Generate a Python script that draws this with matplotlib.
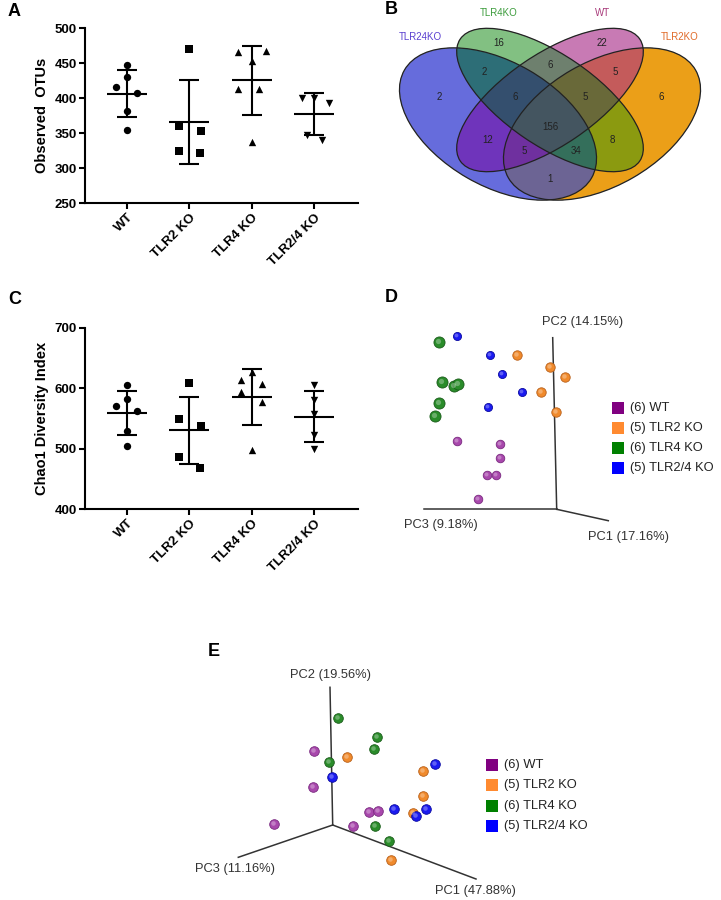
import numpy as np
import matplotlib
matplotlib.use("Agg")
import matplotlib.pyplot as plt
from matplotlib.patches import Ellipse
from matplotlib.colors import to_rgba

plt.rcParams['font.family'] = ['Liberation Sans', 'DejaVu Sans']

W, H = 721, 900

# ---- data ----
groups = ["WT", "TLR2 KO", "TLR4 KO", "TLR2/4 KO"]
markers = ["o", "s", "^", "v"]

# A: observed OTUs per mouse
otus_wt = [448, 431, 416, 407, 382, 355]
otus_tlr2 = [470, 360, 353, 325, 322]
otus_tlr4 = [466, 468, 454, 414, 414, 337]
otus_tlr24 = [401, 401, 394, 348, 341]

# C: Chao1 per mouse
chao_wt = [606, 582, 570, 563, 529, 505]
chao_tlr2 = [608, 549, 538, 487, 469]
chao_tlr4 = [626, 614, 607, 594, 577, 498]
chao_tlr24 = [605, 580, 558, 522, 500]

# B: Venn counts
venn_sets = ["TLR24KO", "TLR4KO", "WT", "TLR2KO"]
venn_counts = [2, 16, 22, 6, 2, 6, 5, 6, 5, 156, 12, 8, 5, 34, 1]

# D: PCoA (unweighted), projected coordinates
d_wt = [(-99.4, 68.3), (-56.7, 65.3), (-56.7, 51), (-70, 34.3), (-61, 34.3), (-78.4, 10)]
d_tlr2 = [(-40, 154.3), (-6.7, 142.6), (8.3, 132.6), (-15.7, 117), (-1, 97.6)]
d_tlr4 = [(-117.4, 167.6), (-115, 127.6), (-102.4, 123.3), (-98.4, 125.3), (-117.7, 106), (-121.7, 93.6)]
d_tlr24 = [(-100, 173.6), (-66.7, 154.3), (-55, 135), (-34.4, 117.6), (-69, 102)]
d_axes = ["PC1 (17.16%)", "PC2 (14.15%)", "PC3 (9.18%)"]

# E: PCoA (weighted), projected coordinates
e_wt = [(-18.4, 74.3), (-19.4, 37.7), (-58.4, 1), (36.3, 12.7), (45.6, 14), (20, -0.7)]
e_tlr2 = [(14, 67.7), (90.6, 54.3), (90, 29.3), (80.6, 12.3), (58, -35)]
e_tlr4 = [(5.6, 106.7), (44, 87.7), (41.3, 75.7), (-3.4, 63), (42.3, -1), (56.3, -15.7)]
e_tlr24 = [(-1, 47.7), (102.3, 61), (61.3, 16.3), (93.3, 16), (83.3, 9)]
e_axes = ["PC1 (47.88%)", "PC2 (19.56%)", "PC3 (11.16%)"]

legend_n = [6, 5, 6, 5]

fig = plt.figure(figsize=(W / 100, H / 100), dpi=100)


def px_axes(x0, y0, x1, y1):
    return fig.add_axes([x0 / W, 1 - y1 / H, (x1 - x0) / W, (y1 - y0) / H])


def dot_panel(ax, values, offsets, ylim, yticks, ylabel):
    for i, (vals, offs, m) in enumerate(zip(values, offsets, markers)):
        vals = np.asarray(vals, float)
        ax.scatter(i + np.asarray(offs), vals, marker=m, s=28, color="black",
                   linewidths=0, zorder=3, clip_on=False)
        mean, sd = vals.mean(), vals.std(ddof=1)
        ax.hlines(mean, i - 0.32, i + 0.32, color="black", lw=1.5)
        ax.vlines(i, mean - sd, mean + sd, color="black", lw=1.5)
        ax.hlines([mean - sd, mean + sd], i - 0.16, i + 0.16, color="black", lw=1.5)
    ax.set_xlim(-0.673, 3.70)
    ax.set_ylim(*ylim)
    ax.set_yticks(yticks)
    ax.set_xticks(range(len(groups)))
    ax.set_xticklabels(groups, rotation=45, ha="right", rotation_mode="anchor",
                       fontsize=9.5, fontweight="bold")
    for t in ax.get_yticklabels():
        t.set_fontweight("bold")
        t.set_fontsize(9.5)
    ax.set_ylabel(ylabel, fontsize=10.5, fontweight="bold", labelpad=4)
    for s in ["top", "right"]:
        ax.spines[s].set_visible(False)
    for s in ["left", "bottom"]:
        ax.spines[s].set_linewidth(1.5)
    ax.tick_params(direction="out", length=4, width=1.5, pad=2)


# ---- A ----
ax_a = px_axes(85, 28.3, 358, 203.3)
dot_panel(ax_a, [otus_wt, otus_tlr2, otus_tlr4, otus_tlr24],
          [[0, 0, -0.17, 0.16, 0, 0], [0, -0.17, 0.18, -0.17, 0.17],
           [-0.22, 0.22, 0, -0.23, 0.11, 0], [-0.2, 0, 0.23, -0.12, 0.12]],
          (250, 500), range(250, 501, 50), "Observed  OTUs")

# ---- C ----
ax_c = px_axes(85, 327.7, 358, 509.3)
dot_panel(ax_c, [chao_wt, chao_tlr2, chao_tlr4, chao_tlr24],
          [[0, 0, -0.17, 0.16, 0, 0], [0, -0.16, 0.18, -0.16, 0.17],
           [0, -0.17, 0.17, -0.17, 0.17, 0], [0, 0, 0, 0, 0]],
          (400, 700), range(400, 701, 100), "Chao1 Diversity Index")

# ---- B: Venn ----
ax_b = px_axes(380, 0, 721, 215)
ellipses = [(498, 124, 108, 62, 30), (550, 100, 108.5, 45.6, 34.2),
            (550, 100, 108.5, 45.6, -34.2), (602, 124, 108, 62, -30)]
region_colors = {8: "#666cdc", 4: "#82c082", 2: "#c87ab4", 1: "#eba018",
                 12: "#2d6e78", 6: "#6e806e", 3: "#c45c5c", 14: "#34506e",
                 7: "#6a6a3a", 15: "#445560", 10: "#7034bc", 5: "#8c9a10",
                 11: "#7030a0", 13: "#34705c", 9: "#6c6494"}
gx = np.linspace(380, 721, 1023)
gy = np.linspace(0, 215, 645)
X, Y = np.meshgrid(gx, gy)
code = np.zeros(X.shape, int)
for bit, (cx, cy, a, b, ang) in zip([8, 4, 2, 1], ellipses):
    t = np.deg2rad(ang)
    u = (X - cx) * np.cos(t) + (Y - cy) * np.sin(t)
    v = -(X - cx) * np.sin(t) + (Y - cy) * np.cos(t)
    code += bit * ((u / a) ** 2 + (v / b) ** 2 <= 1)
rgba = np.zeros(X.shape + (4,))
for k, col in region_colors.items():
    rgba[code == k] = to_rgba(col)
ax_b.imshow(rgba, extent=(380, 721, 215, 0), origin="upper", interpolation="bilinear",
            aspect="auto", zorder=1)
for cx, cy, a, b, ang in ellipses:
    ax_b.add_patch(Ellipse((cx, cy), 2 * a, 2 * b, angle=ang, fill=False,
                           ec="#222222", lw=0.9, zorder=2))
venn_pos = [(439, 96.7), (498.3, 43.3), (602.3, 43.3), (661, 96.7), (484, 71.7),
            (550, 65), (615.7, 71.7), (515, 96.7), (585, 96.7), (550, 126.7),
            (487.3, 140), (612.3, 140), (524, 151), (575.7, 151), (550, 179)]
for (x, y), n in zip(venn_pos, venn_counts):
    ax_b.text(x, y, str(n), ha="center", va="center", fontsize=7, color="#222222", zorder=3)
cat_pos = [(420, 36.7), (498.3, 13.3), (602.3, 13.3), (680, 36.7)]
cat_cols = ["#5a40d0", "#3c9c3c", "#a83a7a", "#e06a28"]
for (x, y), name, c in zip(cat_pos, venn_sets, cat_cols):
    ax_b.text(x, y, name, ha="center", va="center", fontsize=7, color=c)
ax_b.set_xlim(380, 721)
ax_b.set_ylim(215, 0)
ax_b.axis("off")

# ---- D / E: PCoA ----
face_cols = ["#a848ac", "#f08a2c", "#2a8c2a", "#1a1af0"]
edge_cols = ["#7a2a80", "#b8601a", "#1a5c1a", "#0a0aa0"]
legend_cols = ["#800080", "#ff8a30", "#008000", "#0000ff"]


def pcoa_panel(ax, pts, sizes, axis_ends, axis_names, label_pos, leg_xy, leg_dy):
    for (p1, p2), name, (lx, ly) in zip(axis_ends, axis_names, label_pos):
        ax.plot([0, p1], [0, p2], color="#333333", lw=1.1, zorder=1)
        ax.text(lx, ly, name, ha="center", va="center", fontsize=9.3, color="#333333")
    for grp, s, fc, ec in zip(pts, sizes, face_cols, edge_cols):
        g = np.asarray(grp, float)
        ax.scatter(g[:, 0], g[:, 1], s=s, color=fc, edgecolors=ec, linewidths=0.6, zorder=3)
        ax.scatter(g[:, 0] - 1.0, g[:, 1] + 1.0, s=s * 0.22, color="white",
                   alpha=0.3, linewidths=0, zorder=4)
    lx, ly = leg_xy
    for k, (n, g, c) in enumerate(zip(legend_n, groups, legend_cols)):
        ax.scatter([lx], [ly - k * leg_dy], marker="s", s=78, color=c, linewidths=0, zorder=3)
        ax.text(lx + 12, ly - k * leg_dy, f"({n}) {g}", ha="left", va="center",
                fontsize=9.3, color="#222222")
    ax.axis("off")


ax_d = px_axes(380, 290, 721, 560)
ax_d.set_xlim(380 - 556.7, 721 - 556.7)
ax_d.set_ylim(509.3 - 560, 509.3 - 290)
pcoa_panel(ax_d, [d_wt, d_tlr2, d_tlr4, d_tlr24], [38, 46, 64, 34],
           [(51.6, -11.4), (-4, 171.6), (-132.4, 0)], d_axes,
           [(71.6, -27.4), (26, 187.6), (-115.7, -15.7)], (61.6, 101.6), 20)

ax_e = px_axes(180, 640, 640, 900)
ax_e.set_xlim(180 - 332.7, 640 - 332.7)
ax_e.set_ylim(825 - 900, 825 - 640)
pcoa_panel(ax_e, [e_wt, e_tlr2, e_tlr4, e_tlr24], [48, 48, 48, 48],
           [(143.3, -54), (-2.7, 137.7), (-94.4, -32.3)], e_axes,
           [(142.3, -65.7), (-2.7, 150), (-97.7, -44.3)], (159.6, 60), 20.3)

# panel letters
for letter, x, y in [("A", 8, 12), ("B", 385, 10), ("C", 8, 300), ("D", 385, 298), ("E", 208, 652)]:
    fig.text(x / W, 1 - y / H, letter, fontsize=13, fontweight="bold", ha="left", va="center")

fig.savefig("out.png", dpi=100)
